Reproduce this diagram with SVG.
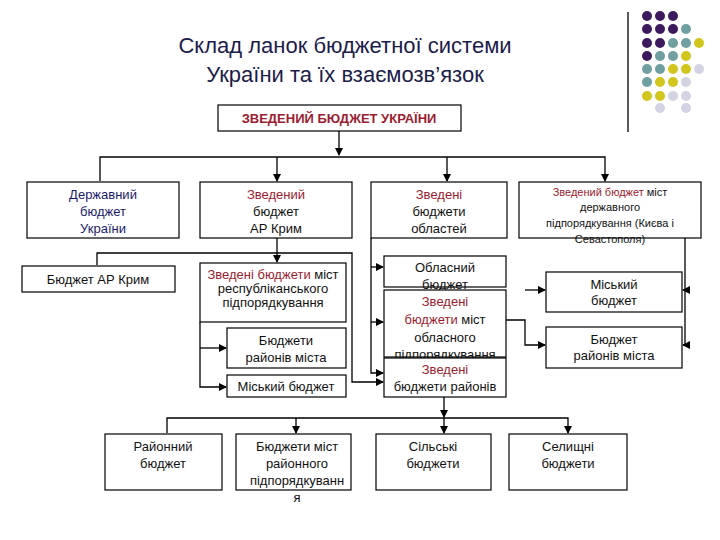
<svg xmlns="http://www.w3.org/2000/svg" width="720" height="540" viewBox="0 0 720 540">
<style>
.b{fill:#fff;stroke:#000;stroke-width:1.2}
.t{font-family:"Liberation Sans",Arial,sans-serif;font-size:13px;text-anchor:middle;fill:#111}
.s{font-size:11px}
.r{fill:#9b1b30}
.n{fill:#1a1a6a}
.c{fill:none;stroke:#000;stroke-width:1.3}
</style>
<defs><marker id="a" markerWidth="8" markerHeight="8" refX="7" refY="4" orient="auto" markerUnits="userSpaceOnUse"><path d="M0,0L8,4L0,8z" fill="#000"/></marker></defs>
<rect width="720" height="540" fill="#fff"/>
<text x="345" y="53" font-family="Liberation Sans,Arial,sans-serif" font-size="22" text-anchor="middle" fill="#1c1c4a">Склад ланок бюджетної системи</text>
<text x="345" y="82" font-family="Liberation Sans,Arial,sans-serif" font-size="22" text-anchor="middle" fill="#1c1c4a">України та їх взаємозв’язок</text>
<line x1="628" y1="12" x2="628" y2="132" stroke="#000" stroke-width="1.3"/>
<g id="dots">
<g fill="#3d1a5e"><circle cx="647" cy="16" r="5"/><circle cx="660" cy="16" r="5"/><circle cx="673" cy="16" r="5"/><circle cx="647" cy="29" r="5"/><circle cx="660" cy="29" r="5"/><circle cx="673" cy="29" r="5"/><circle cx="647" cy="43" r="5"/><circle cx="660" cy="43" r="5"/><circle cx="647" cy="56" r="5"/></g>
<g fill="#6f9fa0"><circle cx="686" cy="29" r="5"/><circle cx="673" cy="43" r="5"/><circle cx="686" cy="43" r="5"/><circle cx="660" cy="56" r="5"/><circle cx="673" cy="56" r="5"/><circle cx="647" cy="69" r="5"/><circle cx="660" cy="69" r="5"/><circle cx="647" cy="82" r="5"/></g>
<g fill="#d2c51e"><circle cx="699" cy="43" r="5"/><circle cx="686" cy="56" r="5"/><circle cx="673" cy="69" r="5"/><circle cx="686" cy="69" r="5"/><circle cx="660" cy="82" r="5"/><circle cx="673" cy="82" r="5"/><circle cx="647" cy="96" r="5"/><circle cx="660" cy="96" r="5"/></g>
<g fill="#d3d3e3"><circle cx="699" cy="69" r="5"/><circle cx="686" cy="82" r="5"/><circle cx="673" cy="96" r="5"/><circle cx="686" cy="96" r="5"/><circle cx="660" cy="108" r="5"/><circle cx="686" cy="108" r="5"/></g>
</g>
<g id="connectors" class="c">
<path d="M339,131V155" marker-end="url(#a)"/>
<path d="M100,181V157H605V181" marker-end="url(#a)"/>
<path d="M277,157V181" marker-end="url(#a)"/>
<path d="M447,157V181" marker-end="url(#a)"/>
<path d="M277,238V262" marker-end="url(#a)"/>
<path d="M97,265V253H352V382H383" marker-end="url(#a)"/>
<path d="M200,322V387H226" marker-end="url(#a)"/>
<path d="M200,348H226" marker-end="url(#a)"/>
<path d="M371,238V373H383" marker-end="url(#a)"/>
<path d="M371,267H383" marker-end="url(#a)"/>
<path d="M371,322H383" marker-end="url(#a)"/>
<path d="M506,320H525V345H545" marker-end="url(#a)"/>
<path d="M525,290H545" marker-end="url(#a)"/>
<path d="M685,238V345H683" marker-end="url(#a)"/>
<path d="M685,290H683" marker-end="url(#a)"/>
<path d="M444,397V417" marker-end="url(#a)"/>
<path d="M167,433V418H568V433" marker-end="url(#a)"/>
<path d="M296,418V433" marker-end="url(#a)"/>
<path d="M444,418V433" marker-end="url(#a)"/>
</g>
<g id="top"><rect class="b" x="218" y="105" width="243" height="26"/><text class="t r" x="339" y="123" font-size="12" font-weight="bold">ЗВЕДЕНИЙ БЮДЖЕТ УКРАЇНИ</text></g>
<g id="derzh"><rect class="b" x="27" y="182" width="152" height="56"/><text class="t n" x="103" y="199">Державний</text><text class="t n" x="103" y="216">бюджет</text><text class="t n" x="103" y="233">України</text></g>
<g id="arkz"><rect class="b" x="200" y="182" width="152" height="56"/><text class="t r" x="276" y="199">Зведений</text><text class="t" x="276" y="216">бюджет</text><text class="t" x="276" y="233">АР Крим</text></g>
<g id="obl"><rect class="b" x="371" y="182" width="136" height="56"/><text class="t r" x="439" y="199">Зведені</text><text class="t" x="439" y="216">бюджети</text><text class="t" x="439" y="233">областей</text></g>
<g id="kyiv"><rect class="b" x="519" y="182" width="182" height="56"/><text class="t s" x="610" y="196"><tspan class="r">Зведений бюджет</tspan> міст</text><text class="t s" x="610" y="211">державного</text><text class="t s" x="610" y="227">підпорядкування (Києва і</text><text class="t s" x="610" y="243">Севастополя)</text></g>
<g id="ark"><rect class="b" x="22" y="266" width="153" height="26"/><text class="t" x="98" y="284">Бюджет АР Крим</text></g>
<g id="resp"><rect class="b" x="200" y="263" width="146" height="59"/><text class="t" x="273" y="279" font-size="10"><tspan class="r">Зведені бюджети</tspan> міст</text><text class="t" x="273" y="293" font-size="10">республіканського</text><text class="t" x="273" y="307" font-size="10">підпорядкування</text></g>
<g id="rmista"><rect class="b" x="227" y="328" width="119" height="40"/><text class="t" x="286" y="345">Бюджети</text><text class="t" x="286" y="362">районів міста</text></g>
<g id="misk1"><rect class="b" x="227" y="375" width="119" height="22"/><text class="t" x="286" y="391">Міський бюджет</text></g>
<g id="oblb"><rect class="b" x="384" y="256" width="122" height="31"/><text class="t" x="445" y="272">Обласний</text><text class="t" x="445" y="289">бюджет</text></g>
<g id="mistobl"><rect class="b" x="384" y="290" width="122" height="67"/><text class="t r" x="445" y="306">Зведені</text><text class="t" x="445" y="324"><tspan class="r">бюджети</tspan> міст</text><text class="t" x="445" y="342">обласного</text><text class="t" x="445" y="359">підпорядкування</text></g>
<g id="rayony"><rect class="b" x="384" y="358" width="122" height="39"/><text class="t r" x="445" y="374">Зведені</text><text class="t" x="445" y="391">бюджети районів</text></g>
<g id="misk2"><rect class="b" x="546" y="272" width="136" height="40"/><text class="t" x="614" y="289">Міський</text><text class="t" x="614" y="305">бюджет</text></g>
<g id="rmista2"><rect class="b" x="546" y="327" width="136" height="41"/><text class="t" x="614" y="344">Бюджет</text><text class="t" x="614" y="360">районів міста</text></g>
<g id="rayon"><rect class="b" x="105" y="434" width="117" height="56"/><text class="t" x="163" y="451">Районний</text><text class="t" x="163" y="468">бюджет</text></g>
<g id="mistray"><rect class="b" x="236" y="434" width="115" height="56"/><text class="t" x="297" y="451">Бюджети міст</text><text class="t" x="297" y="468">районного</text><text class="t" x="297" y="485">підпорядкуванн</text><text class="t" x="297" y="502">я</text></g>
<g id="silski"><rect class="b" x="376" y="434" width="115" height="56"/><text class="t" x="433" y="451">Сільські</text><text class="t" x="433" y="468">бюджети</text></g>
<g id="selyshchni"><rect class="b" x="509" y="434" width="118" height="56"/><text class="t" x="568" y="451">Селищні</text><text class="t" x="568" y="468">бюджети</text></g>
</svg>
